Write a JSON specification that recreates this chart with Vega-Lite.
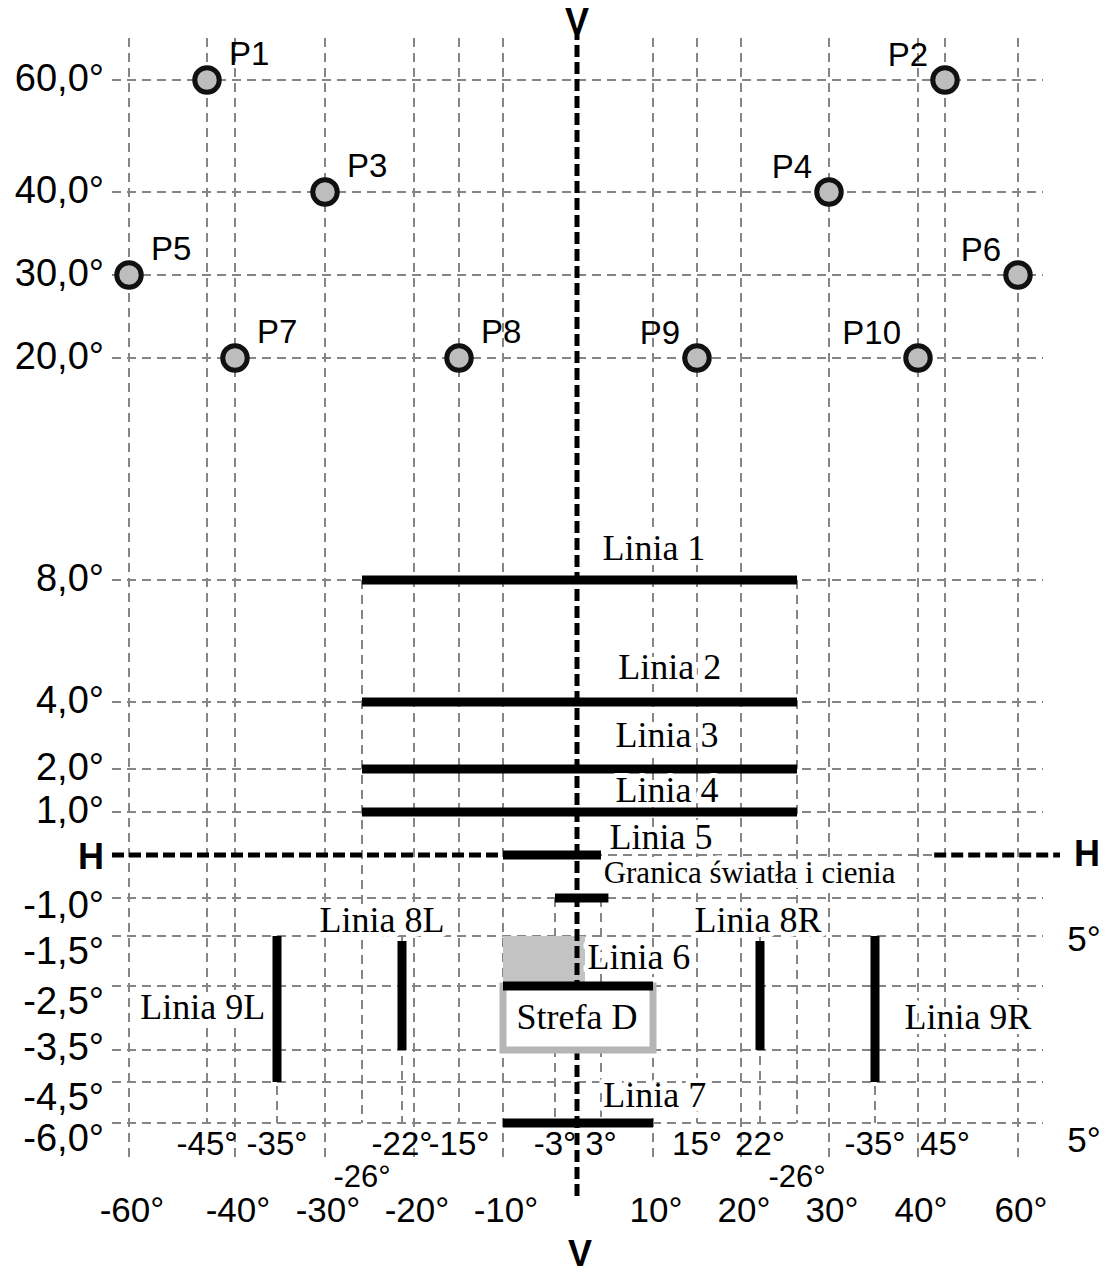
{
  "$schema": "https://vega.github.io/schema/vega-lite/v6.json",
  "width": 1110,
  "height": 1273,
  "padding": 0,
  "autosize": {"type": "none"},
  "background": "white",
  "config": {"view": {"stroke": null}, "text": {"font": "Liberation Sans", "color": "black"}},
  "datasets": {
    "grid": [
      {"kind": "h", "x": -60, "x2": 60, "y": 60}, {"kind": "h", "x": -60, "x2": 60, "y": 40},
      {"kind": "h", "x": -60, "x2": 60, "y": 30}, {"kind": "h", "x": -60, "x2": 60, "y": 20},
      {"kind": "h", "x": -60, "x2": 60, "y": 8}, {"kind": "h", "x": -60, "x2": 60, "y": 4},
      {"kind": "h", "x": -60, "x2": 60, "y": 2}, {"kind": "h", "x": -60, "x2": 60, "y": 1},
      {"kind": "h", "x": -60, "x2": 60, "y": -1}, {"kind": "h", "x": -60, "x2": 60, "y": -1.5},
      {"kind": "h", "x": -60, "x2": 60, "y": -2.5}, {"kind": "h", "x": -60, "x2": 60, "y": -3.5},
      {"kind": "h", "x": -60, "x2": 60, "y": -4.5}, {"kind": "h", "x": -60, "x2": 60, "y": -6},
      {"kind": "vfull", "x": -60, "y": 60, "y2": -6}, {"kind": "vfull", "x": -40, "y": 60, "y2": -6},
      {"kind": "vfull", "x": -30, "y": 60, "y2": -6}, {"kind": "vfull", "x": -20, "y": 60, "y2": -6},
      {"kind": "vfull", "x": -10, "y": 60, "y2": -6}, {"kind": "vfull", "x": 10, "y": 60, "y2": -6},
      {"kind": "vfull", "x": 20, "y": 60, "y2": -6}, {"kind": "vfull", "x": 30, "y": 60, "y2": -6},
      {"kind": "vfull", "x": 40, "y": 60, "y2": -6}, {"kind": "vfull", "x": 60, "y": 60, "y2": -6},
      {"kind": "vtop", "x": -45, "y": 60, "y2": -6}, {"kind": "vtop", "x": -15, "y": 60, "y2": -6},
      {"kind": "vtop", "x": 15, "y": 60, "y2": -6}, {"kind": "vtop", "x": 45, "y": 60, "y2": -6},
      {"kind": "part", "x": -26, "x2": -26, "y": 8, "y2": -6},
      {"kind": "part", "x": 26, "x2": 26, "y": 8, "y2": -6},
      {"kind": "part", "x": -35, "x2": -35, "y": -1.5, "y2": -6},
      {"kind": "part", "x": 35, "x2": 35, "y": -1.5, "y2": -6},
      {"kind": "part", "x": -22, "x2": -22, "y": -1.5, "y2": -6},
      {"kind": "part", "x": 22, "x2": 22, "y": -1.5, "y2": -6},
      {"kind": "part", "x": -3, "x2": -3, "y": -1, "y2": -6},
      {"kind": "part", "x": 3, "x2": 3, "y": -1, "y2": -6},
      {"kind": "part", "x": -10, "x2": 43, "y": 0, "y2": 0}
    ],
    "axes": [
      {"part": "V", "x": 0, "y": 60, "y2": -6},
      {"part": "Hl", "x": -60, "x2": -10, "y": 0},
      {"part": "Hr", "x": 43, "x2": 60, "y": 0}
    ],
    "zones": [
      {"zone": "shade", "x": -10, "x2": 1, "y": -1.5, "y2": -2.5},
      {"zone": "Strefa D", "x": -10, "x2": 10, "y": -2.5, "y2": -3.5}
    ],
    "bars": [
      {"name": "Linia 1", "x": -26, "x2": 26, "y": 8, "y2": 8},
      {"name": "Linia 2", "x": -26, "x2": 26, "y": 4, "y2": 4},
      {"name": "Linia 3", "x": -26, "x2": 26, "y": 2, "y2": 2},
      {"name": "Linia 4", "x": -26, "x2": 26, "y": 1, "y2": 1},
      {"name": "Linia 5", "x": -10, "x2": 3, "y": 0, "y2": 0},
      {"name": "Granica", "x": -3, "x2": 4, "y": -1, "y2": -1},
      {"name": "Linia 6", "x": -10, "x2": 10, "y": -2.5, "y2": -2.5},
      {"name": "Linia 7", "x": -10, "x2": 10, "y": -6, "y2": -6},
      {"name": "Linia 8L", "x": -22, "x2": -22, "y": -1.6, "y2": -3.5},
      {"name": "Linia 8R", "x": 22, "x2": 22, "y": -1.6, "y2": -3.5},
      {"name": "Linia 9L", "x": -35, "x2": -35, "y": -1.5, "y2": -4.5},
      {"name": "Linia 9R", "x": 35, "x2": 35, "y": -1.5, "y2": -4.5}
    ],
    "points": [
      {"name": "P1", "x": -45, "y": 60}, {"name": "P2", "x": 45, "y": 60},
      {"name": "P3", "x": -30, "y": 40}, {"name": "P4", "x": 30, "y": 40},
      {"name": "P5", "x": -60, "y": 30}, {"name": "P6", "x": 60, "y": 30},
      {"name": "P7", "x": -40, "y": 20}, {"name": "P8", "x": -15, "y": 20},
      {"name": "P9", "x": 15, "y": 20}, {"name": "P10", "x": 40, "y": 20}
    ],
    "ylabels": [
      {"t": "60,0°", "x": -60, "y": 60}, {"t": "40,0°", "x": -60, "y": 40},
      {"t": "30,0°", "x": -60, "y": 30}, {"t": "20,0°", "x": -60, "y": 20},
      {"t": "8,0°", "x": -60, "y": 8}, {"t": "4,0°", "x": -60, "y": 4},
      {"t": "2,0°", "x": -60, "y": 2}, {"t": "1,0°", "x": -60, "y": 1},
      {"t": "-1,0°", "x": -60, "y": -1}, {"t": "-1,5°", "x": -60, "y": -1.5},
      {"t": "-2,5°", "x": -60, "y": -2.5}, {"t": "-3,5°", "x": -60, "y": -3.5},
      {"t": "-4,5°", "x": -60, "y": -4.5}, {"t": "-6,0°", "x": -60, "y": -6}
    ],
    "xlabels": [
      {"t": "-45°", "x": -45, "y": -6, "row": "upper"}, {"t": "-35°", "x": -35, "y": -6, "row": "upper"},
      {"t": "-22°", "x": -22, "y": -6, "row": "upper"}, {"t": "-15°", "x": -15, "y": -6, "row": "upper"},
      {"t": "-3°", "x": -3, "y": -6, "row": "upper"}, {"t": "3°", "x": 3, "y": -6, "row": "upper"},
      {"t": "15°", "x": 15, "y": -6, "row": "upper"}, {"t": "22°", "x": 22, "y": -6, "row": "upper"},
      {"t": "-35°", "x": 35, "y": -6, "row": "upper"}, {"t": "45°", "x": 45, "y": -6, "row": "upper"},
      {"t": "-26°", "x": -26, "y": -6, "row": "mid"}, {"t": "-26°", "x": 26, "y": -6, "row": "mid"},
      {"t": "-60°", "x": -60, "y": -6, "row": "lower"}, {"t": "-40°", "x": -40, "y": -6, "row": "lower"},
      {"t": "-30°", "x": -30, "y": -6, "row": "lower"}, {"t": "-20°", "x": -20, "y": -6, "row": "lower"},
      {"t": "-10°", "x": -10, "y": -6, "row": "lower"}, {"t": "10°", "x": 10, "y": -6, "row": "lower"},
      {"t": "20°", "x": 20, "y": -6, "row": "lower"}, {"t": "30°", "x": 30, "y": -6, "row": "lower"},
      {"t": "40°", "x": 40, "y": -6, "row": "lower"}, {"t": "60°", "x": 60, "y": -6, "row": "lower"}
    ],
    "notes": [
      {"t": "H", "x": -60, "y": 0, "kind": "Hl"},
      {"t": "H", "x": 60, "y": 0, "kind": "Hr"},
      {"t": "V", "x": 0, "y": 60, "kind": "Vt"},
      {"t": "V", "x": 0, "y": -6, "kind": "Vb"},
      {"t": "5°", "x": 60, "y": -1.5, "kind": "f1"},
      {"t": "5°", "x": 60, "y": -6, "kind": "f2"}
    ],
    "labels": [
      {"t": "Linia 1", "x": 10.1, "y": 9.7},
      {"t": "Linia 2", "x": 11.9, "y": 5.1},
      {"t": "Linia 3", "x": 11.6, "y": 3.0},
      {"t": "Linia 4", "x": 11.6, "y": 1.5},
      {"t": "Linia 5", "x": 10.9, "y": 0.4},
      {"t": "Granica światła i cienia", "x": 20.9, "y": -0.44},
      {"t": "Linia 8L", "x": -24, "y": -1.3},
      {"t": "Linia 8R", "x": 21.8, "y": -1.3},
      {"t": "Linia 6", "x": 8.1, "y": -1.94},
      {"t": "Linia 9L", "x": -45.8, "y": -2.84},
      {"t": "Strefa D", "x": 0, "y": -3.0},
      {"t": "Linia 9R", "x": 49.7, "y": -3.0},
      {"t": "Linia 7", "x": 10.2, "y": -5.0}
    ]
  },
  "encoding": {
    "x": {"field": "x", "type": "quantitative", "axis": null,
      "scale": {"domain": [-60, -45, -40, -35, -30, -26, -22, -20, -15, -10, -3, 0, 3, 10, 15, 20, 22, 26, 30, 35, 40, 45, 60],
        "range": [129, 207, 235, 277, 325, 362, 402, 414, 459, 503, 555, 577, 601, 653, 697, 741, 760, 797, 829, 875, 918, 945, 1018],
        "nice": false, "zero": false}},
    "y": {"field": "y", "type": "quantitative", "axis": null,
      "scale": {"domain": [-6, -4.5, -3.5, -2.5, -1.5, -1, 0, 1, 2, 4, 8, 20, 30, 40, 60],
        "range": [1123, 1082, 1050, 986, 936, 898, 855, 812, 769, 702, 580, 358, 275, 192, 80],
        "nice": false, "zero": false}}
  },
  "layer": [
    {"data": {"name": "grid"}, "transform": [{"filter": "datum.kind === 'h'"}],
      "mark": {"type": "rule", "color": "#858585", "strokeWidth": 2, "strokeDash": [9, 6], "xOffset": -17, "x2Offset": 25},
      "encoding": {"x2": {"field": "x2"}}},
    {"data": {"name": "grid"}, "transform": [{"filter": "datum.kind === 'vfull'"}],
      "mark": {"type": "rule", "color": "#858585", "strokeWidth": 2, "strokeDash": [9, 6], "yOffset": -42, "y2Offset": 40},
      "encoding": {"y2": {"field": "y2"}}},
    {"data": {"name": "grid"}, "transform": [{"filter": "datum.kind === 'vtop'"}],
      "mark": {"type": "rule", "color": "#858585", "strokeWidth": 2, "strokeDash": [9, 6], "yOffset": -42},
      "encoding": {"y2": {"field": "y2"}}},
    {"data": {"name": "grid"}, "transform": [{"filter": "datum.kind === 'part'"}],
      "mark": {"type": "rule", "color": "#858585", "strokeWidth": 2, "strokeDash": [9, 6]},
      "encoding": {"x2": {"field": "x2"}, "y2": {"field": "y2"}}},
    {"data": {"name": "zones"}, "transform": [{"filter": "datum.zone === 'shade'"}],
      "mark": {"type": "rect", "color": "#c3c3c3"},
      "encoding": {"x2": {"field": "x2"}, "y2": {"field": "y2"}}},
    {"data": {"name": "axes"}, "transform": [{"filter": "datum.part === 'V'"}],
      "mark": {"type": "rule", "color": "black", "strokeWidth": 5, "strokeDash": [12, 5], "yOffset": -52, "y2Offset": 77},
      "encoding": {"y2": {"field": "y2"}}},
    {"data": {"name": "axes"}, "transform": [{"filter": "datum.part === 'Hl'"}],
      "mark": {"type": "rule", "color": "black", "strokeWidth": 5, "strokeDash": [12, 5], "xOffset": -17},
      "encoding": {"x2": {"field": "x2"}}},
    {"data": {"name": "axes"}, "transform": [{"filter": "datum.part === 'Hr'"}],
      "mark": {"type": "rule", "color": "black", "strokeWidth": 5, "strokeDash": [12, 5], "x2Offset": 42},
      "encoding": {"x2": {"field": "x2"}}},
    {"data": {"name": "zones"}, "transform": [{"filter": "datum.zone === 'Strefa D'"}],
      "mark": {"type": "rect", "fill": "white", "stroke": "#b5b5b5", "strokeWidth": 7},
      "encoding": {"x2": {"field": "x2"}, "y2": {"field": "y2"}}},
    {"data": {"name": "bars"},
      "mark": {"type": "rule", "color": "black", "strokeWidth": 9, "strokeCap": "butt"},
      "encoding": {"x2": {"field": "x2"}, "y2": {"field": "y2"}}},
    {"data": {"name": "points"},
      "mark": {"type": "circle", "fill": "#bdbdbd", "stroke": "#111111", "strokeWidth": 5, "size": 600, "opacity": 1, "fillOpacity": 1}},
    {"data": {"name": "points"}, "transform": [{"filter": "datum.x < 0"}],
      "mark": {"type": "text", "fontSize": 33, "align": "left", "baseline": "middle", "dx": 22, "dy": -25},
      "encoding": {"text": {"field": "name"}}},
    {"data": {"name": "points"}, "transform": [{"filter": "datum.x > 0"}],
      "mark": {"type": "text", "fontSize": 33, "align": "right", "baseline": "middle", "dx": -17, "dy": -24},
      "encoding": {"text": {"field": "name"}}},
    {"data": {"name": "ylabels"}, "transform": [{"filter": "datum.y >= 0"}],
      "mark": {"type": "text", "fontSize": 38, "align": "right", "baseline": "middle", "dx": -25},
      "encoding": {"text": {"field": "t"}}},
    {"data": {"name": "ylabels"}, "transform": [{"filter": "datum.y === -1"}],
      "mark": {"type": "text", "fontSize": 38, "align": "right", "baseline": "middle", "dx": -25, "dy": 9},
      "encoding": {"text": {"field": "t"}}},
    {"data": {"name": "ylabels"}, "transform": [{"filter": "datum.y === -3.5"}],
      "mark": {"type": "text", "fontSize": 38, "align": "right", "baseline": "middle", "dx": -25, "dy": -1},
      "encoding": {"text": {"field": "t"}}},
    {"data": {"name": "ylabels"}, "transform": [{"filter": "datum.y < -1 && datum.y !== -3.5"}],
      "mark": {"type": "text", "fontSize": 38, "align": "right", "baseline": "middle", "dx": -25, "dy": 17},
      "encoding": {"text": {"field": "t"}}},
    {"data": {"name": "xlabels"}, "transform": [{"filter": "datum.row === 'upper'"}],
      "mark": {"type": "text", "fontSize": 33, "align": "center", "baseline": "middle", "dy": 22},
      "encoding": {"text": {"field": "t"}}},
    {"data": {"name": "xlabels"}, "transform": [{"filter": "datum.row === 'mid'"}],
      "mark": {"type": "text", "fontSize": 31, "align": "center", "baseline": "middle", "dy": 55},
      "encoding": {"text": {"field": "t"}}},
    {"data": {"name": "xlabels"}, "transform": [{"filter": "datum.row === 'lower'"}],
      "mark": {"type": "text", "fontSize": 35, "align": "center", "baseline": "middle", "dy": 88, "dx": 3},
      "encoding": {"text": {"field": "t"}}},
    {"data": {"name": "notes"}, "transform": [{"filter": "datum.kind === 'Hl'"}],
      "mark": {"type": "text", "fontSize": 36, "fontWeight": "bold", "align": "center", "baseline": "middle", "dx": -38, "dy": 3},
      "encoding": {"text": {"field": "t"}}},
    {"data": {"name": "notes"}, "transform": [{"filter": "datum.kind === 'Hr'"}],
      "mark": {"type": "text", "fontSize": 36, "fontWeight": "bold", "align": "center", "baseline": "middle", "dx": 69, "dy": 0},
      "encoding": {"text": {"field": "t"}}},
    {"data": {"name": "notes"}, "transform": [{"filter": "datum.kind === 'Vt'"}],
      "mark": {"type": "text", "fontSize": 36, "fontWeight": "bold", "align": "center", "baseline": "alphabetic", "dy": -46},
      "encoding": {"text": {"field": "t"}}},
    {"data": {"name": "notes"}, "transform": [{"filter": "datum.kind === 'Vb'"}],
      "mark": {"type": "text", "fontSize": 36, "fontWeight": "bold", "align": "center", "baseline": "middle", "dx": 3, "dy": 132},
      "encoding": {"text": {"field": "t"}}},
    {"data": {"name": "notes"}, "transform": [{"filter": "datum.kind === 'f1'"}],
      "mark": {"type": "text", "fontSize": 35, "align": "center", "baseline": "middle", "dx": 66, "dy": 4},
      "encoding": {"text": {"field": "t"}}},
    {"data": {"name": "notes"}, "transform": [{"filter": "datum.kind === 'f2'"}],
      "mark": {"type": "text", "fontSize": 35, "align": "center", "baseline": "middle", "dx": 66, "dy": 18},
      "encoding": {"text": {"field": "t"}}},
    {"data": {"name": "labels"},
      "mark": {"type": "text", "font": "Liberation Serif", "align": "center", "baseline": "middle", "fill": "white", "stroke": "white", "strokeWidth": 10, "strokeJoin": "round"},
      "encoding": {"text": {"field": "t"}, "size": {"condition": {"test": "datum.t === 'Granica światła i cienia'", "value": 31}, "value": 36}}},
    {"data": {"name": "labels"},
      "mark": {"type": "text", "font": "Liberation Serif", "align": "center", "baseline": "middle", "color": "black"},
      "encoding": {"text": {"field": "t"}, "size": {"condition": {"test": "datum.t === 'Granica światła i cienia'", "value": 31}, "value": 36}}}
  ]
}
